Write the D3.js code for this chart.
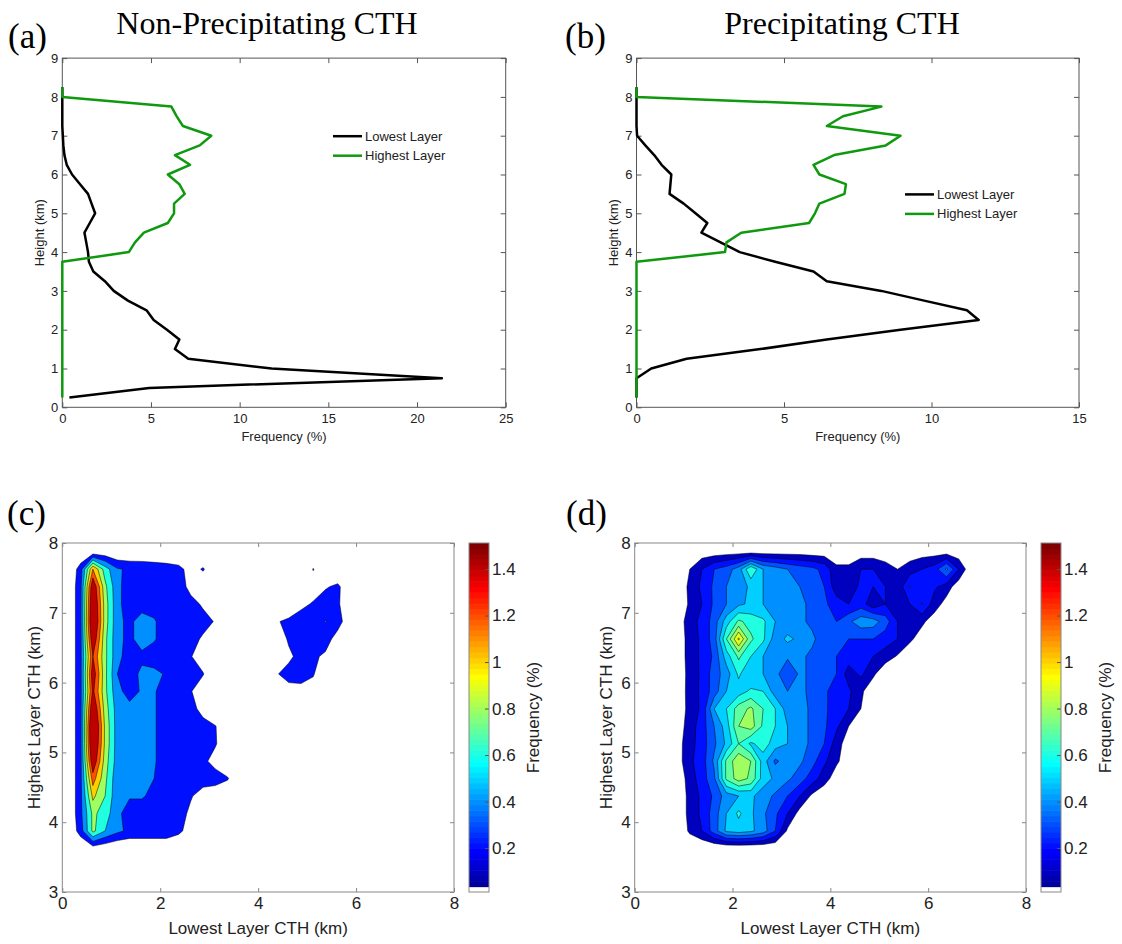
<!DOCTYPE html>
<html>
<head>
<meta charset="utf-8">
<script src="https://cdn.jsdelivr.net/npm/d3@7"></script>
<style>
  body { margin: 0; background: #fff; }
  svg { display: block; }
</style>
</head>
<body>
<svg width="1122" height="944"></svg>
<script>
var SANS = '"Liberation Sans", Arial, Helvetica, sans-serif',
    SERIF = '"Liberation Serif", "Times New Roman", Times, serif';

// ---- (a), (b): frequency (%) of cloud top height, 0.25 km bins
var heights = [0.25, 0.5, 0.75, 1, 1.25, 1.5, 1.75, 2, 2.25, 2.5, 2.75, 3, 3.25, 3.5, 3.75, 4, 4.25,
               4.5, 4.75, 5, 5.25, 5.5, 5.75, 6, 6.25, 6.5, 6.75, 7, 7.25, 7.5, 7.75, 8, 8.25];

var nonPrecipLowest = [0.4, 4.9, 21.4, 11.8, 7.1, 6.35, 6.6, 5.9, 5.15, 4.75, 3.7, 2.9, 2.4, 1.75, 1.5, 1.45, 1.35,
                       1.25, 1.55, 1.85, 1.65, 1.45, 1.0, 0.55, 0.25, 0.12, 0.06, 0.03, 0, 0, 0, 0, 0];
var nonPrecipHighest = [0, 0, 0, 0, 0, 0, 0, 0, 0, 0, 0, 0, 0, 0, 0, 3.75, 4.1,
                        4.6, 5.95, 6.3, 6.3, 6.9, 6.6, 5.95, 7.2, 6.35, 7.75, 8.4, 6.8, 6.45, 6.15, 0, 0];
var precipLowest = [0, 0, 0, 0.5, 1.7, 4.2, 6.45, 8.95, 11.6, 11.2, 9.75, 8.3, 6.45, 6.0, 4.7, 3.5, 2.85,
                    2.2, 2.4, 2.0, 1.6, 1.12, 1.15, 1.18, 0.85, 0.6, 0.3, 0.02, 0, 0, 0, 0, 0];
var precipHighest = [0, 0, 0, 0, 0, 0, 0, 0, 0, 0, 0, 0, 0, 0, 0, 3.0, 3.05,
                     3.55, 5.85, 6.05, 6.2, 7.05, 7.1, 6.2, 6.0, 6.7, 8.45, 8.95, 6.45, 7.0, 8.3, 0, 0];

var seriesNames = ["Lowest Layer", "Highest Layer"];

// ---- (c), (d): joint frequency (%), lowest layer CTH (columns) x highest layer CTH (rows)
var lowestBins = [0.125, 0.375, 0.625, 0.875, 1.125, 1.375, 1.625, 1.875, 2.125, 2.375, 2.625, 2.875, 3.125, 3.375,
                  3.625, 3.875, 4.125, 4.375, 4.625, 4.875, 5.125, 5.375, 5.625, 5.875, 6.125, 6.375, 6.625, 6.875];
var highestBins = [7.875, 7.625, 7.375, 7.125, 6.875, 6.625, 6.375, 6.125, 5.875, 5.625,
                   5.375, 5.125, 4.875, 4.625, 4.375, 4.125, 3.875, 3.625, 3.375, 3.125];

var nonPrecipJoint = [
  [0, 0, 0.05, 0.05, 0, 0, 0, 0, 0, 0, 0, 0, 0, 0, 0, 0, 0, 0, 0, 0, 0, 0, 0, 0, 0, 0, 0, 0],
  [0, 0.3, 1.2, 0.7, 0.42, 0.37, 0.36, 0.33, 0.3, 0.26, 0.12, 0.22, 0.05, 0, 0, 0, 0, 0, 0, 0, 0.21, 0, 0, 0, 0, 0, 0, 0],
  [0, 0.35, 1.6, 0.85, 0.45, 0.3, 0.3, 0.3, 0.3, 0.28, 0.15, 0.05, 0, 0, 0, 0, 0, 0, 0, 0, 0.1, 0.18, 0.24, 0.05, 0, 0, 0, 0],
  [0, 0.35, 1.7, 0.9, 0.45, 0.3, 0.3, 0.32, 0.3, 0.3, 0.25, 0.18, 0.05, 0, 0, 0, 0, 0, 0, 0.15, 0.22, 0.3, 0.22, 0.1, 0, 0, 0, 0],
  [0, 0.35, 1.75, 0.9, 0.45, 0.35, 0.5, 0.42, 0.3, 0.3, 0.3, 0.25, 0.19, 0, 0, 0, 0, 0.18, 0.25, 0.3, 0.3, 0.41, 0.25, 0.12, 0, 0, 0, 0],
  [0, 0.35, 1.6, 0.85, 0.45, 0.35, 0.5, 0.42, 0.3, 0.3, 0.25, 0.18, 0.05, 0, 0, 0, 0, 0.1, 0.22, 0.3, 0.3, 0.25, 0.15, 0, 0, 0, 0, 0],
  [0, 0.35, 1.4, 0.85, 0.45, 0.32, 0.35, 0.3, 0.3, 0.28, 0.21, 0.1, 0, 0, 0, 0, 0, 0, 0.17, 0.25, 0.22, 0.18, 0, 0, 0, 0, 0, 0],
  [0, 0.35, 1.55, 0.85, 0.4, 0.3, 0.45, 0.45, 0.38, 0.3, 0.3, 0.21, 0.05, 0, 0, 0, 0, 0.19, 0.25, 0.25, 0.21, 0.1, 0, 0, 0, 0, 0, 0],
  [0, 0.35, 1.45, 0.85, 0.45, 0.33, 0.42, 0.42, 0.3, 0.28, 0.21, 0.1, 0, 0, 0, 0, 0, 0, 0.15, 0.16, 0.15, 0, 0, 0, 0, 0, 0, 0],
  [0, 0.35, 1.65, 0.9, 0.5, 0.45, 0.45, 0.42, 0.3, 0.3, 0.25, 0.15, 0, 0, 0, 0, 0, 0, 0, 0, 0, 0, 0, 0, 0, 0, 0, 0],
  [0, 0.35, 1.8, 0.95, 0.5, 0.45, 0.45, 0.42, 0.3, 0.3, 0.3, 0.25, 0.21, 0.05, 0, 0, 0, 0, 0, 0, 0, 0, 0, 0, 0, 0, 0, 0],
  [0, 0.35, 1.75, 0.95, 0.5, 0.45, 0.45, 0.42, 0.3, 0.3, 0.3, 0.25, 0.22, 0.05, 0, 0, 0, 0, 0, 0, 0, 0, 0, 0, 0, 0, 0, 0],
  [0, 0.35, 1.6, 0.9, 0.5, 0.45, 0.45, 0.42, 0.3, 0.3, 0.3, 0.25, 0.12, 0, 0, 0, 0, 0, 0, 0, 0, 0, 0, 0, 0, 0, 0, 0],
  [0, 0.35, 1.3, 0.85, 0.45, 0.45, 0.45, 0.4, 0.3, 0.3, 0.3, 0.3, 0.3, 0.22, 0, 0, 0, 0, 0, 0, 0, 0, 0, 0, 0, 0, 0, 0],
  [0, 0.35, 1.05, 0.8, 0.45, 0.42, 0.42, 0.35, 0.3, 0.3, 0.22, 0.1, 0.05, 0, 0, 0, 0, 0, 0, 0, 0, 0, 0, 0, 0, 0, 0, 0],
  [0, 0.35, 0.85, 0.7, 0.45, 0.3, 0.3, 0.3, 0.3, 0.3, 0.15, 0, 0, 0, 0, 0, 0, 0, 0, 0, 0, 0, 0, 0, 0, 0, 0, 0],
  [0, 0.3, 0.85, 0.6, 0.45, 0.35, 0.35, 0.35, 0.35, 0.25, 0.1, 0, 0, 0, 0, 0, 0, 0, 0, 0, 0, 0, 0, 0, 0, 0, 0, 0],
  [0, 0, 0.1, 0.05, 0, 0, 0, 0, 0, 0, 0, 0, 0, 0, 0, 0, 0, 0, 0, 0, 0, 0, 0, 0, 0, 0, 0, 0],
  [0, 0, 0, 0, 0, 0, 0, 0, 0, 0, 0, 0, 0, 0, 0, 0, 0, 0, 0, 0, 0, 0, 0, 0, 0, 0, 0, 0],
  [0, 0, 0, 0, 0, 0, 0, 0, 0, 0, 0, 0, 0, 0, 0, 0, 0, 0, 0, 0, 0, 0, 0, 0, 0, 0, 0, 0]
];

var precipJoint = [
  [0, 0, 0, 0, 0, 0.04, 0.04, 0.05, 0.05, 0.05, 0.05, 0.05, 0.05, 0.05, 0.04, 0.04, 0.04, 0.04, 0.04, 0.04, 0.03, 0.03, 0.04, 0.05, 0.05, 0.05, 0.03, 0],
  [0, 0, 0, 0, 0.1, 0.2, 0.3, 0.35, 0.45, 0.7, 0.5, 0.45, 0.4, 0.36, 0.33, 0.27, 0.12, 0.12, 0.2, 0.2, 0.15, 0.1, 0.15, 0.2, 0.25, 0.42, 0.2, 0.02],
  [0, 0, 0, 0, 0.13, 0.22, 0.32, 0.4, 0.45, 0.52, 0.5, 0.45, 0.42, 0.4, 0.36, 0.3, 0.14, 0.15, 0.22, 0.2, 0.2, 0.12, 0.31, 0.2, 0.22, 0.15, 0.04, 0],
  [0, 0, 0, 0, 0.12, 0.2, 0.32, 0.4, 0.48, 0.52, 0.5, 0.45, 0.44, 0.42, 0.38, 0.32, 0.25, 0.2, 0.25, 0.13, 0.2, 0.13, 0.2, 0.31, 0.15, 0.06, 0, 0],
  [0, 0, 0, 0.02, 0.17, 0.22, 0.35, 0.55, 0.72, 0.66, 0.62, 0.5, 0.44, 0.42, 0.38, 0.32, 0.3, 0.38, 0.46, 0.45, 0.35, 0.2, 0.15, 0.12, 0.05, 0, 0, 0],
  [0, 0, 0, 0.02, 0.15, 0.22, 0.35, 0.7, 1.02, 0.72, 0.62, 0.45, 0.52, 0.48, 0.42, 0.35, 0.3, 0.3, 0.3, 0.3, 0.25, 0.2, 0.12, 0.05, 0, 0, 0, 0],
  [0, 0, 0, 0.02, 0.15, 0.22, 0.32, 0.55, 0.72, 0.6, 0.5, 0.44, 0.42, 0.42, 0.38, 0.32, 0.3, 0.25, 0.2, 0.2, 0.15, 0.09, 0.03, 0, 0, 0, 0, 0],
  [0, 0, 0, 0.02, 0.14, 0.22, 0.35, 0.45, 0.62, 0.5, 0.5, 0.44, 0.3, 0.42, 0.38, 0.32, 0.3, 0.15, 0.22, 0.12, 0.02, 0, 0, 0, 0, 0, 0, 0],
  [0, 0, 0, 0.01, 0.15, 0.22, 0.35, 0.5, 0.55, 0.62, 0.6, 0.45, 0.4, 0.42, 0.38, 0.32, 0.25, 0.22, 0.12, 0.03, 0, 0, 0, 0, 0, 0, 0, 0],
  [0, 0, 0, 0.02, 0.14, 0.22, 0.5, 0.6, 0.75, 0.82, 0.7, 0.6, 0.45, 0.44, 0.38, 0.32, 0.25, 0.2, 0.1, 0.02, 0, 0, 0, 0, 0, 0, 0, 0],
  [0, 0, 0, 0.04, 0.15, 0.25, 0.4, 0.55, 0.8, 0.85, 0.68, 0.6, 0.5, 0.44, 0.38, 0.32, 0.22, 0.1, 0.03, 0, 0, 0, 0, 0, 0, 0, 0, 0],
  [0, 0, 0, 0.06, 0.16, 0.25, 0.38, 0.52, 0.7, 0.58, 0.65, 0.55, 0.5, 0.44, 0.38, 0.3, 0.15, 0.04, 0, 0, 0, 0, 0, 0, 0, 0, 0, 0],
  [0, 0, 0, 0.05, 0.18, 0.25, 0.42, 0.72, 0.88, 0.8, 0.55, 0.38, 0.45, 0.42, 0.34, 0.22, 0.12, 0.03, 0, 0, 0, 0, 0, 0, 0, 0, 0, 0],
  [0, 0, 0, 0.02, 0.15, 0.25, 0.38, 0.72, 0.85, 0.78, 0.55, 0.48, 0.42, 0.35, 0.25, 0.15, 0.04, 0, 0, 0, 0, 0, 0, 0, 0, 0, 0, 0],
  [0, 0, 0, 0, 0.14, 0.22, 0.32, 0.45, 0.5, 0.52, 0.45, 0.38, 0.3, 0.2, 0.08, 0.02, 0, 0, 0, 0, 0, 0, 0, 0, 0, 0, 0, 0],
  [0, 0, 0, 0, 0.14, 0.22, 0.35, 0.5, 0.62, 0.52, 0.42, 0.32, 0.2, 0.06, 0, 0, 0, 0, 0, 0, 0, 0, 0, 0, 0, 0, 0, 0],
  [0, 0, 0, 0, 0.12, 0.2, 0.35, 0.52, 0.55, 0.52, 0.45, 0.3, 0.08, 0, 0, 0, 0, 0, 0, 0, 0, 0, 0, 0, 0, 0, 0, 0],
  [0, 0, 0, 0, 0, 0, 0, 0, 0, 0, 0, 0, 0, 0, 0, 0, 0, 0, 0, 0, 0, 0, 0, 0, 0, 0, 0, 0],
  [0, 0, 0, 0, 0, 0, 0, 0, 0, 0, 0, 0, 0, 0, 0, 0, 0, 0, 0, 0, 0, 0, 0, 0, 0, 0, 0, 0],
  [0, 0, 0, 0, 0, 0, 0, 0, 0, 0, 0, 0, 0, 0, 0, 0, 0, 0, 0, 0, 0, 0, 0, 0, 0, 0, 0, 0]
];

var nonPrecipLevels = [0.2, 0.4, 0.6, 0.8, 1.0, 1.2, 1.4];
var precipLevels = [0.1, 0.2, 0.3, 0.4, 0.5, 0.6, 0.7, 0.8, 0.9, 1.0];
var colorTicks = [0.2, 0.4, 0.6, 0.8, 1, 1.2, 1.4];
var colorRange = [0.011, 1.512];

var GREEN = "#0f990f";
var svg = d3.select("svg");

// matlab jet(64), i = 1..64
function jet(i) {
  function u(k) { return k <= 16 ? k / 16 : k <= 31 ? 1 : (48 - k) / 16; }
  var r = i >= 25 ? u(i - 24) : 0,
      g = (i >= 9 && i <= 55) ? u(i - 8) : 0,
      b = i <= 39 ? u(i + 8) : 0;
  return d3.rgb(r * 255, g * 255, b * 255).toString();
}
function levelColor(v) {
  var i = Math.floor((v - colorRange[0]) / (colorRange[1] - colorRange[0]) * 64) + 1;
  i = Math.max(1, Math.min(64, i));
  return i === 1 ? "#fff" : jet(i);
}

// box with inward ticks on all four sides
function frame(g, x, y, xTicks, yTicks, o) {
  var x0 = x.range()[0], x1 = x.range()[1], y0 = y.range()[0], y1 = y.range()[1];
  var fmt = d3.format("~g");
  g.append("g").attr("transform", "translate(0," + y0 + ")")
    .call(d3.axisBottom(x).tickValues(xTicks).tickSize(-o.tick).tickPadding(o.padX).tickFormat(fmt));
  g.append("g").attr("transform", "translate(0," + y1 + ")")
    .call(d3.axisTop(x).tickValues(xTicks).tickSize(-o.tick).tickFormat(""));
  g.append("g").attr("transform", "translate(" + x0 + ",0)")
    .call(d3.axisLeft(y).tickValues(yTicks).tickSize(-o.tick).tickPadding(o.padY).tickFormat(fmt));
  g.append("g").attr("transform", "translate(" + x1 + ",0)")
    .call(d3.axisRight(y).tickValues(yTicks).tickSize(-o.tick).tickFormat(""));
  g.selectAll(".domain").remove();
  g.selectAll(".tick line").attr("stroke", o.color);
  g.selectAll(".tick text").attr("fill", "#222")
    .style("font-family", SANS).style("font-size", o.font + "px");
  g.append("rect")
    .attr("x", x0).attr("y", y1).attr("width", x1 - x0).attr("height", y0 - y1)
    .attr("fill", "none").attr("stroke", o.color).attr("stroke-width", 1);
}

function label(txt, x, y, size, opts) {
  opts = opts || {};
  var t = svg.append("text")
    .attr("x", x).attr("y", y)
    .attr("text-anchor", opts.anchor || "middle")
    .style("font-family", opts.family || SANS)
    .style("font-size", size + "px")
    .attr("fill", opts.fill || "#222")
    .text(txt);
  if (opts.rotate) t.attr("transform", "rotate(-90," + x + "," + y + ")");
  return t;
}

function drawProfile(box, xMax, xTicks, lowest, highest, legend) {
  var x = d3.scaleLinear().domain([0, xMax]).range([box.left, box.right]);
  var y = d3.scaleLinear().domain([0, 9]).range([box.bottom, box.top]);
  var g = svg.append("g");

  frame(g, x, y, xTicks, [0, 1, 2, 3, 4, 5, 6, 7, 8, 9], {tick: 5, padX: 6, padY: 4, font: 13, color: "#555"});

  var line = d3.line()
    .x(function(d) { return x(d[0]); })
    .y(function(d) { return y(d[1]); });

  [[lowest, "#000"], [highest, GREEN]].forEach(function(s) {
    g.append("path")
      .datum(d3.zip(s[0], heights))
      .attr("fill", "none")
      .attr("stroke", s[1])
      .attr("stroke-width", 2.5)
      .attr("stroke-linejoin", "round")
      .attr("d", line);
  });

  seriesNames.forEach(function(name, i) {
    var ly = legend.y + i * 19.5;
    g.append("line")
      .attr("x1", legend.x).attr("x2", legend.x + 29)
      .attr("y1", ly).attr("y2", ly)
      .attr("stroke", i ? GREEN : "#000").attr("stroke-width", 2.5);
    g.append("text")
      .attr("x", legend.x + 32).attr("y", ly + 4.5)
      .style("font-family", SANS).style("font-size", "13px").attr("fill", "#222")
      .text(name);
  });

  label("Frequency (%)", (box.left + box.right) / 2, 441, 13);
  label("Height (km)", box.left - 18.5, (box.top + box.bottom) / 2, 13, {rotate: true});
}

function drawJoint(box, bar, grid, levels) {
  var x = d3.scaleLinear().domain([0, 8]).range([box.left, box.right]);
  var y = d3.scaleLinear().domain([3, 8]).range([box.bottom, box.top]);
  var g = svg.append("g");
  var clipId = "clip" + Math.round(box.left);

  g.append("clipPath").attr("id", clipId).append("rect")
    .attr("x", box.left).attr("y", box.top)
    .attr("width", box.right - box.left).attr("height", box.bottom - box.top);

  // padded grid, row 0 at the bottom, one empty bin all round
  var nx = lowestBins.length + 2, ny = highestBins.length + 2;
  var sx = lowestBins[1] - lowestBins[0], sy = highestBins[0] - highestBins[1];
  var xPad = lowestBins[0] - sx, yPad = highestBins[highestBins.length - 1] - sy;
  var values = new Array(nx * ny).fill(0);
  grid.forEach(function(row, r) {
    var j = ny - 2 - r;
    row.forEach(function(v, i) { values[j * nx + i + 1] = v; });
  });

  var path = d3.geoPath(d3.geoTransform({
    point: function(px, py) {
      this.stream.point(x(xPad + (px - 0.5) * sx), y(yPad + (py - 0.5) * sy));
    }
  }));

  g.append("g").attr("clip-path", "url(#" + clipId + ")")
    .selectAll("path")
    .data(d3.contours().size([nx, ny]).thresholds(levels)(values))
    .join("path")
    .attr("d", path)
    .attr("fill", function(d) { return levelColor(d.value); })
    .attr("stroke", "#000")
    .attr("stroke-width", 0.5)
    .attr("stroke-linejoin", "round");

  frame(g, x, y, [0, 2, 4, 6, 8], [3, 4, 5, 6, 7, 8], {tick: 4, padX: 5, padY: 4, font: 17, color: "#888"});

  // colour bar, 64 steps, lowest one white
  var c = d3.scaleLinear().domain(colorRange).range([bar.bottom, bar.top]);
  var dv = (colorRange[1] - colorRange[0]) / 64;
  var cb = svg.append("g");
  cb.selectAll("rect")
    .data(d3.range(64))
    .join("rect")
    .attr("x", bar.left).attr("width", bar.right - bar.left)
    .attr("y", function(k) { return c(colorRange[0] + (k + 1) * dv); })
    .attr("height", function(k) { return c(colorRange[0] + k * dv) - c(colorRange[0] + (k + 1) * dv) + 0.6; })
    .attr("fill", function(k) { return k === 0 ? "#fff" : jet(k + 1); });
  cb.append("g").attr("transform", "translate(" + bar.right + ",0)")
    .call(d3.axisRight(c).tickValues(colorTicks).tickSize(-4).tickPadding(3)
      .tickFormat(d3.format("~g")))
    .call(function(a) {
      a.select(".domain").remove();
      a.selectAll(".tick line").attr("stroke", "#555");
      a.selectAll(".tick text").attr("fill", "#222").style("font-family", SANS).style("font-size", "17px");
    });
  cb.append("rect")
    .attr("x", bar.left).attr("y", bar.top)
    .attr("width", bar.right - bar.left).attr("height", bar.bottom - bar.top)
    .attr("fill", "none").attr("stroke", "#888");

  label("Lowest Layer CTH (km)", (box.left + box.right) / 2, 934, 17);
  label("Highest Layer CTH (km)", box.left - 22.8, (box.top + box.bottom) / 2, 17, {rotate: true});
  label("Frequency (%)", bar.right + 50, (bar.top + bar.bottom) / 2, 17, {rotate: true});
}

drawProfile({left: 62.3, right: 505.7, top: 58.1, bottom: 407.3}, 25, [0, 5, 10, 15, 20, 25],
  nonPrecipLowest, nonPrecipHighest, {x: 333, y: 136.2});
drawProfile({left: 636.5, right: 1079, top: 58.1, bottom: 407.3}, 15, [0, 5, 10, 15],
  precipLowest, precipHighest, {x: 905, y: 194.4});

drawJoint({left: 62.3, right: 454, top: 543, bottom: 892}, {left: 469, right: 489, top: 543, bottom: 892},
  nonPrecipJoint, nonPrecipLevels);
drawJoint({left: 634.7, right: 1026, top: 543, bottom: 892}, {left: 1041, right: 1061, top: 543, bottom: 892},
  precipJoint, precipLevels);

// titles and panel letters
label("Non-Precipitating CTH", 267, 34, 32, {family: SERIF, fill: "#000"});
label("Precipitating CTH", 842, 34, 32, {family: SERIF, fill: "#000"});
label("(a)", 8, 48, 35, {family: SERIF, fill: "#000", anchor: "start"});
label("(b)", 565, 48, 35, {family: SERIF, fill: "#000", anchor: "start"});
label("(c)", 7, 525, 35, {family: SERIF, fill: "#000", anchor: "start"});
label("(d)", 566, 525, 35, {family: SERIF, fill: "#000", anchor: "start"});
</script>
</body>
</html>
